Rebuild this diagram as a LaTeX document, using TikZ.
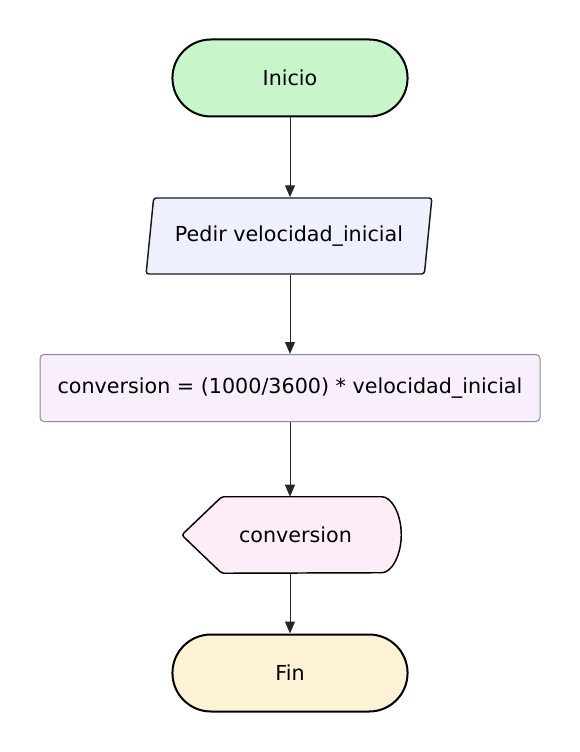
\documentclass[tikz,border=0pt]{standalone}
\usepackage{fontspec}
\setmainfont{DejaVu Sans}
\usepackage{tikz}
\usetikzlibrary{shapes.misc,shapes.geometric,arrows.meta}

\definecolor{inicioverde}{RGB}{200,245,201}
\definecolor{entradalila}{RGB}{238,240,253}
\definecolor{procesolila}{RGB}{248,238,252}
\definecolor{salidarosa}{RGB}{253,237,248}
\definecolor{fincrema}{RGB}{253,241,214}

\tikzset{
    terminal/.style={rounded rectangle, draw=black, line width=1.5pt,
        minimum width=183pt, minimum height=57.75pt},
    entrada/.style={trapezium, trapezium left angle=77.4, trapezium right angle=102.6,
        trapezium stretches=true, draw=black!90, line width=1.1pt, rounded corners=2pt,
        fill=entradalila, minimum width=214.5pt, minimum height=57pt},
    proceso/.style={rectangle, rounded corners=3pt, draw=black!45, line width=0.75pt,
        fill=procesolila, minimum width=375pt, minimum height=50.25pt},
    salida/.style={draw=black, line width=1.1pt, fill=salidarosa, rounded corners=2pt},
    flow/.style={draw=black!85, line width=0.75pt, -{Triangle[length=9pt,width=7.5pt]}}
}

\begin{document}
\begin{tikzpicture}[x=0.75pt, y=-0.75pt, font=\fontsize{15.5}{18}\selectfont]
    \useasboundingbox (0,0) rectangle (580,752);
    \node[terminal, fill=inicioverde] (inicio) at (290,78) {Inicio};
    \node[entrada] (pedir) at (289,236) {Pedir velocidad\_inicial};
    \node[proceso] (calc) at (290,388) {conversion = (1000/3600) * velocidad\_inicial};
    \node[minimum width=164.25pt, minimum height=57pt, inner sep=0pt] (disp) at (291.5,535) {};
    \draw[salida] (disp.west) -- ([xshift=30pt]disp.north west)
        -- ([xshift=-16.5pt]disp.north east)
        arc[start angle=90, end angle=-90, x radius=16.5pt, y radius=28.5pt]
        -- ([xshift=30pt]disp.south west) -- cycle;
    \node at ([xshift=3pt]disp.center) {conversion};
    \node[terminal, fill=fincrema] (fin) at (290,673) {Fin};
    \draw[flow] (inicio.south) -- (inicio.south |- pedir.north);
    \draw[flow] (pedir.south -| calc.north) -- (calc.north);
    \draw[flow] (calc.south) -- (calc.south |- disp.north);
    \draw[flow] (calc.south |- disp.south) -- (fin.north);
\end{tikzpicture}
\end{document}
